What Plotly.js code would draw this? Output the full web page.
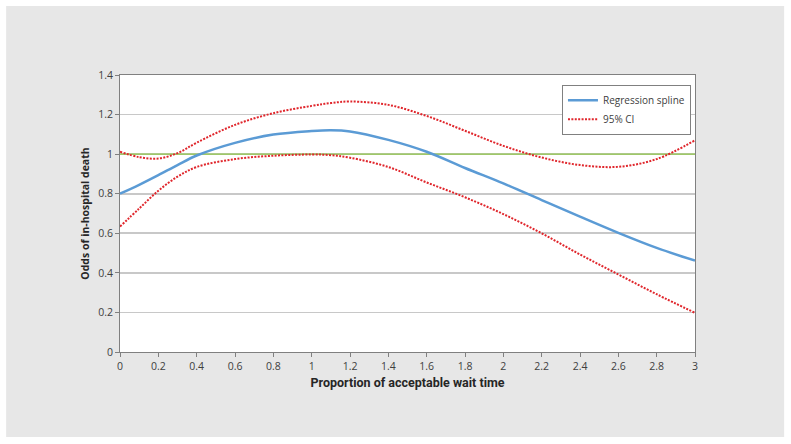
<!DOCTYPE html>
<html>
<head>
<meta charset="utf-8">
<script src="https://cdn.plot.ly/plotly-3.0.1.min.js"></script>
<style>html,body{margin:0;padding:0;background:#fff;}#chart{width:791px;height:444px;}</style>
</head>
<body>
<div id="chart"></div>
<script>
const xValues = [0, 0.1, 0.2, 0.3, 0.4, 0.6, 0.8, 1.0, 1.1, 1.2, 1.4, 1.6, 1.8, 2.0, 2.2, 2.4, 2.6, 2.8, 3.0];
const splineValues = [0.80, 0.845, 0.894, 0.945, 0.993, 1.057, 1.099, 1.117, 1.121, 1.115, 1.072, 1.012, 0.930, 0.852, 0.768, 0.684, 0.602, 0.526, 0.462];
const upperValues = [1.012, 0.985, 0.978, 1.005, 1.058, 1.148, 1.207, 1.244, 1.258, 1.266, 1.249, 1.193, 1.118, 1.042, 0.983, 0.945, 0.936, 0.975, 1.07];
const lowerValues = [0.634, 0.725, 0.815, 0.886, 0.935, 0.975, 0.992, 0.998, 0.995, 0.982, 0.935, 0.857, 0.782, 0.697, 0.600, 0.493, 0.392, 0.292, 0.198];
const xTicks = [0,0.2,0.4,0.6,0.8,1,1.2,1.4,1.6,1.8,2,2.2,2.4,2.6,2.8,3];
const xTickText = ['0','0.2','0.4','0.6','0.8','1','1.2','1.4','1.6','1.8','2','2.2','2.4','2.6','2.8','3'];
const yTicks = [0,0.2,0.4,0.6,0.8,1,1.2,1.4];
const yTickText = ['0','0.2','0.4','0.6','0.8','1','1.2','1.4'];
const refValue = 1;
const seriesNames = ['Regression spline', '95% CI'];

const xFirst = xValues[0], xLast = xValues[xValues.length - 1];
const ciLine = {color: '#e0262c', width: 2, dash: '2px,1.4px', shape: 'spline'};
const traces = [
  {x: [xFirst, xLast], y: [refValue, refValue], mode: 'lines', name: 'Reference', showlegend: false, hoverinfo: 'skip', line: {color: '#92c94a', width: 1.3}},
  {x: xValues, y: splineValues, mode: 'lines', name: seriesNames[0], line: {color: '#5b9bd5', width: 2.5, shape: 'spline'}},
  {x: xValues, y: upperValues, mode: 'lines', name: seriesNames[1], line: ciLine},
  {x: xValues, y: lowerValues, mode: 'lines', name: seriesNames[1], showlegend: false, line: ciLine}
];

const layout = {
  width: 791, height: 444,
  margin: {l: 120, r: 96, t: 75, b: 92},
  paper_bgcolor: '#ffffff',
  plot_bgcolor: '#ffffff',
  showlegend: true,
  font: {family: 'Open Sans, sans-serif', color: '#404040'},
  xaxis: {
    range: [0, 3], tickvals: xTicks, ticktext: xTickText,
    showgrid: false, zeroline: false,
    showline: true, linecolor: '#808080', linewidth: 1, mirror: true,
    ticks: 'outside', ticklen: 4, tickcolor: '#808080',
    tickfont: {family: 'Open Sans, sans-serif', size: 10.5, color: '#404040'},
    title: {text: 'Proportion of acceptable wait time', standoff: 6,
      font: {family: 'Roboto, sans-serif', size: 12.5, color: '#262626', weight: 'bold'}}
  },
  yaxis: {
    range: [0, 1.4], tickvals: yTicks, ticktext: yTickText,
    showgrid: true, gridcolor: '#c8c8c8', gridwidth: 1.6, zeroline: false,
    showline: true, linecolor: '#808080', linewidth: 1, mirror: true,
    ticks: 'outside', ticklen: 4, tickcolor: '#808080',
    tickfont: {family: 'Open Sans, sans-serif', size: 10.5, color: '#404040'},
    title: {text: 'Odds of in-hospital death', standoff: 6,
      font: {family: 'Open Sans, sans-serif', size: 10.5, color: '#262626', weight: 'bold'}}
  },
  legend: {
    x: 0.993, y: 0.965, xanchor: 'right', yanchor: 'top',
    bgcolor: '#ffffff', bordercolor: '#808080', borderwidth: 1,
    font: {family: 'Open Sans, sans-serif', size: 10, color: '#404040'},
    tracegroupgap: 6
  },
  shapes: [
    {type: 'rect', xref: 'paper', yref: 'paper', x0: -0.198, x1: 1.155, y0: -0.307, y1: 1.249, fillcolor: '#e7e7e7', line: {width: 0}, layer: 'below'},
    {type: 'rect', xref: 'paper', yref: 'paper', x0: 0, x1: 1, y0: 0, y1: 1, fillcolor: '#ffffff', line: {width: 0}, layer: 'below'}
  ]
};

Plotly.newPlot('chart', traces, layout, {displayModeBar: false, staticPlot: true});
</script>
</body>
</html>
